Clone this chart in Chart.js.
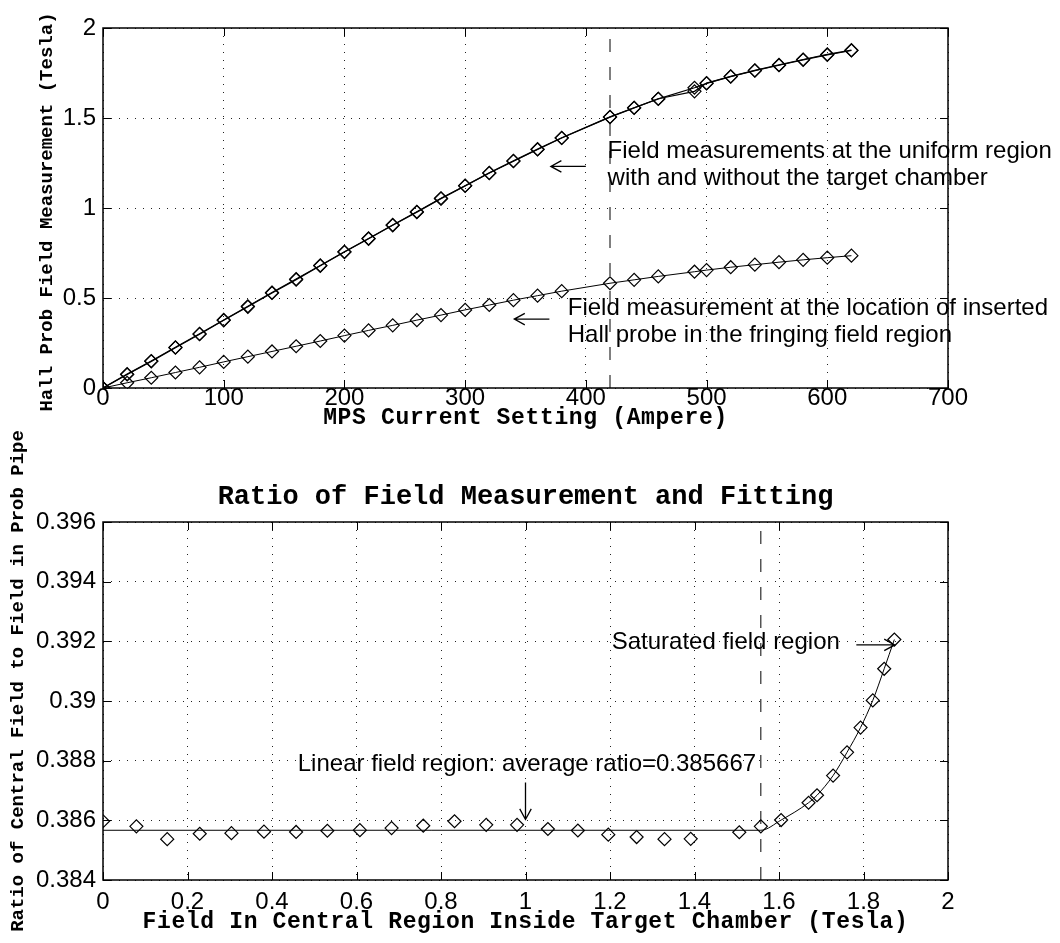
<!DOCTYPE html>
<html>
<head>
<meta charset="utf-8">
<script src="https://cdn.jsdelivr.net/npm/chart.js@4.4.1/dist/chart.umd.min.js"></script>
<style>
  html, body { margin: 0; padding: 0; background: #fff; }
  #topChart { position: absolute; left: 0; top: 0; }
  #bottomChart { position: absolute; left: 0; top: 420px; }
</style>
</head>
<body>
<canvas id="topChart" width="1060" height="440"></canvas>
<canvas id="bottomChart" width="1060" height="523"></canvas>
<script>
// ---- top panel: field vs MPS current ----
const xCurrent = [0, 20, 40, 60, 80, 100, 120, 140, 160, 180, 200, 220, 240, 260, 280, 300,
  320, 340, 360, 380, 420, 440, 460, 490, 500, 520, 540, 560, 580, 600, 620];
const uniformWithChamber = [0, 0.077, 0.150, 0.226, 0.301, 0.378, 0.454, 0.530, 0.605, 0.681,
  0.757, 0.831, 0.906, 0.979, 1.054, 1.124, 1.195, 1.262, 1.327, 1.390, 1.506, 1.557, 1.606,
  1.668, 1.692, 1.730, 1.763, 1.793, 1.823, 1.851, 1.875];
const uniformNoChamber = [0, 0.075, 0.148, 0.224, 0.299, 0.376, 0.451, 0.528, 0.602, 0.679,
  0.755, 0.829, 0.904, 0.977, 1.052, 1.123, 1.194, 1.260, 1.325, 1.389, 1.505, 1.556, 1.607,
  1.648, 1.694, 1.731, 1.765, 1.795, 1.825, 1.853, 1.877];
const fringeField = [0, 0.029, 0.057, 0.086, 0.115, 0.145, 0.174, 0.203, 0.232, 0.261, 0.291,
  0.320, 0.348, 0.377, 0.405, 0.434, 0.461, 0.488, 0.513, 0.538, 0.582, 0.601, 0.620, 0.646,
  0.655, 0.671, 0.685, 0.699, 0.712, 0.724, 0.735];
const topMarkerX = [420, 420];
const topMarkerY = [0, 2];
const topXTicks = [0, 100, 200, 300, 400, 500, 600, 700];
const topXLabels = ['0', '100', '200', '300', '400', '500', '600', '700'];
const topYTicks = [0, 0.5, 1, 1.5, 2];
const topYLabels = ['0', '0.5', '1', '1.5', '2'];

// ---- bottom panel: ratio vs central field ----
const centralField = [0, 0.079, 0.152, 0.229, 0.304, 0.381, 0.457, 0.531, 0.608, 0.683, 0.758,
  0.832, 0.907, 0.980, 1.053, 1.124, 1.196, 1.263, 1.329, 1.391, 1.506, 1.557, 1.605, 1.670,
  1.690, 1.728, 1.761, 1.793, 1.822, 1.849, 1.873];
const fieldRatio = [0.38597, 0.38580, 0.38537, 0.38555, 0.38557, 0.38562, 0.38561, 0.38565,
  0.38567, 0.38574, 0.38582, 0.38597, 0.38585, 0.38585, 0.38571, 0.38566, 0.38552, 0.38544,
  0.38537, 0.38538, 0.38560, 0.38580, 0.38601, 0.38659, 0.38684, 0.38750, 0.38828, 0.38911,
  0.39002, 0.39108, 0.39206];
const fitField = [0, 1.557, 1.605, 1.670, 1.690, 1.728, 1.761, 1.793, 1.822, 1.849, 1.873];
const fitRatio = [0.385667, 0.385667, 0.38601, 0.38659, 0.38684, 0.38750, 0.38828, 0.38911,
  0.39002, 0.39108, 0.39206];
const bottomMarkerX = [1.557, 1.557];
const bottomMarkerY = [0.384, 0.396];
const bottomXTicks = [0, 0.2, 0.4, 0.6, 0.8, 1, 1.2, 1.4, 1.6, 1.8, 2];
const bottomXLabels = ['0', '0.2', '0.4', '0.6', '0.8', '1', '1.2', '1.4', '1.6', '1.8', '2'];
const bottomYTicks = [0.384, 0.386, 0.388, 0.390, 0.392, 0.394, 0.396];
const bottomYLabels = ['0.384', '0.386', '0.388', '0.39', '0.392', '0.394', '0.396'];

const pts = (xs, ys) => xs.map((x, i) => ({ x: x, y: ys[i] }));

function drawArrow(ctx, x0, y0, x1, y1) {
  const ang = Math.atan2(y1 - y0, x1 - x0);
  ctx.beginPath();
  ctx.moveTo(x0, y0);
  ctx.lineTo(x1, y1);
  ctx.moveTo(x1 - 12 * Math.cos(ang - 0.5), y1 - 12 * Math.sin(ang - 0.5));
  ctx.lineTo(x1, y1);
  ctx.lineTo(x1 - 12 * Math.cos(ang + 0.5), y1 - 12 * Math.sin(ang + 0.5));
  ctx.stroke();
}

// matlab style box, inner ticks, text notes and axis titles
const overlay = {
  id: 'overlay',
  afterDraw(chart, args, opts) {
    const { ctx, chartArea: a, scales: { x, y } } = chart;
    ctx.save();
    ctx.strokeStyle = '#000';
    ctx.lineWidth = 1.5;
    ctx.strokeRect(a.left, a.top, a.width, a.height);

    ctx.lineWidth = 1;
    ctx.beginPath();
    x.ticks.forEach(t => {
      const p = Math.round(x.getPixelForValue(t.value)) + 0.5;
      ctx.moveTo(p, a.bottom); ctx.lineTo(p, a.bottom - 8);
      ctx.moveTo(p, a.top); ctx.lineTo(p, a.top + 8);
    });
    y.ticks.forEach(t => {
      const p = Math.round(y.getPixelForValue(t.value)) + 0.5;
      ctx.moveTo(a.left, p); ctx.lineTo(a.left + 8, p);
      ctx.moveTo(a.right, p); ctx.lineTo(a.right - 8, p);
    });
    ctx.stroke();

    ctx.fillStyle = '#000';
    ctx.font = '24px "Liberation Sans"';
    ctx.textBaseline = 'middle';
    ctx.textAlign = 'left';
    opts.notes.forEach(n => {
      ctx.fillText(n.text, x.getPixelForValue(n.x), y.getPixelForValue(n.y));
    });
    ctx.lineWidth = 1.3;
    opts.arrows.forEach(ar => {
      drawArrow(ctx, x.getPixelForValue(ar[0]), y.getPixelForValue(ar[1]),
        x.getPixelForValue(ar[2]), y.getPixelForValue(ar[3]));
    });

    const cx = (a.left + a.right) / 2;
    const cy = (a.top + a.bottom) / 2;
    ctx.textAlign = 'center';
    ctx.font = 'bold 23px "Liberation Mono"';
    ctx.letterSpacing = '0.65px';
    ctx.fillText(opts.xTitle, cx, a.bottom + opts.xTitleDy);
    ctx.letterSpacing = '0px';
    if (opts.title) {
      ctx.font = 'bold 27px "Liberation Mono"';
      ctx.fillText(opts.title, cx, a.top - 25);
    }
    ctx.font = 'bold 19px "Liberation Mono"';
    ctx.translate(opts.yTitleX, cy + opts.yTitleDy);
    ctx.rotate(-Math.PI / 2);
    ctx.fillText(opts.yTitle, 0, 0);
    ctx.restore();
  }
};

function axis(min, max, ticks, labels, fit, pad) {
  return {
    type: 'linear',
    min: min,
    max: max,
    afterBuildTicks: s => { s.ticks = ticks.map(v => ({ value: v })); },
    afterFit: fit,
    ticks: {
      callback: (v, i) => labels[i],
      color: '#000',
      font: { family: 'Liberation Sans', size: 24 },
      padding: pad,
      autoSkip: false,
      maxRotation: 0
    },
    grid: { color: '#222', lineWidth: 1, drawTicks: false },
    border: { display: false, dash: [1, 7] }
  };
}

const lineSet = (data, width) => ({
  data: data,
  showLine: true,
  borderColor: '#000',
  borderWidth: width,
  pointStyle: 'rectRot',
  pointRadius: 6.5,
  pointBorderWidth: 1.2,
  pointBorderColor: '#000',
  pointBackgroundColor: 'rgba(0,0,0,0)',
  backgroundColor: 'rgba(0,0,0,0)'
});

const dashSet = (data) => ({
  data: data,
  showLine: true,
  borderColor: '#000',
  borderWidth: 1,
  borderDash: [13, 15],
  pointRadius: 0
});

new Chart(document.getElementById('topChart'), {
  type: 'scatter',
  data: {
    datasets: [
      lineSet(pts(xCurrent, uniformWithChamber), 1.2),
      lineSet(pts(xCurrent, uniformNoChamber), 1.2),
      lineSet(pts(xCurrent, fringeField), 1),
      dashSet(pts(topMarkerX, topMarkerY))
    ]
  },
  options: {
    responsive: false,
    animation: false,
    devicePixelRatio: 1,
    layout: { padding: { left: 0, right: 112, top: 28, bottom: 0 } },
    plugins: {
      legend: { display: false },
      tooltip: { enabled: false },
      overlay: {
        notes: [
          { text: 'Field measurements at the uniform region', x: 418, y: 1.315 },
          { text: 'with and without the target chamber', x: 418, y: 1.163 },
          { text: 'Field measurement at the location of inserted', x: 385, y: 0.444 },
          { text: 'Hall probe in the fringing field region', x: 385, y: 0.291 }
        ],
        arrows: [[400, 1.231, 371, 1.231], [369.8, 0.383, 340.7, 0.383]],
        xTitle: 'MPS Current Setting (Ampere)',
        xTitleDy: 30,
        yTitle: 'Hall Prob Field Measurement (Tesla)',
        yTitleX: 47,
        yTitleDy: 4
      }
    },
    scales: {
      x: axis(0, 700, topXTicks, topXLabels, s => { s.height = 52; }, -4),
      y: axis(0, 2, topYTicks, topYLabels, s => { s.width = 103; }, 7)
    }
  },
  plugins: [overlay]
});

new Chart(document.getElementById('bottomChart'), {
  type: 'scatter',
  data: {
    datasets: [
      lineSet(pts(centralField, fieldRatio), 0),
      Object.assign(lineSet(pts(fitField, fitRatio), 1), { pointRadius: 0, cubicInterpolationMode: 'monotone' }),
      dashSet(pts(bottomMarkerX, bottomMarkerY))
    ]
  },
  options: {
    responsive: false,
    animation: false,
    devicePixelRatio: 1,
    layout: { padding: { left: 0, right: 112, top: 102, bottom: 0 } },
    plugins: {
      legend: { display: false },
      tooltip: { enabled: false },
      overlay: {
        notes: [
          { text: 'Saturated field region', x: 1.204, y: 0.39197 },
          { text: 'Linear field region: average ratio=0.385667', x: 0.461, y: 0.38789 }
        ],
        arrows: [[1.783, 0.39188, 1.874, 0.39188], [1.0, 0.38727, 1.0, 0.38603]],
        title: 'Ratio of Field Measurement and Fitting',
        xTitle: 'Field In Central Region Inside Target Chamber (Tesla)',
        xTitleDy: 42,
        yTitle: 'Ratio of Central Field to Field in Prob Pipe',
        yTitleX: 18,
        yTitleDy: -20
      }
    },
    scales: {
      x: axis(0, 2, bottomXTicks, bottomXLabels, s => { s.height = 63; }, 8),
      y: axis(0.384, 0.396, bottomYTicks, bottomYLabels, s => { s.width = 103; }, 7)
    }
  },
  plugins: [overlay]
});
</script>
</body>
</html>
